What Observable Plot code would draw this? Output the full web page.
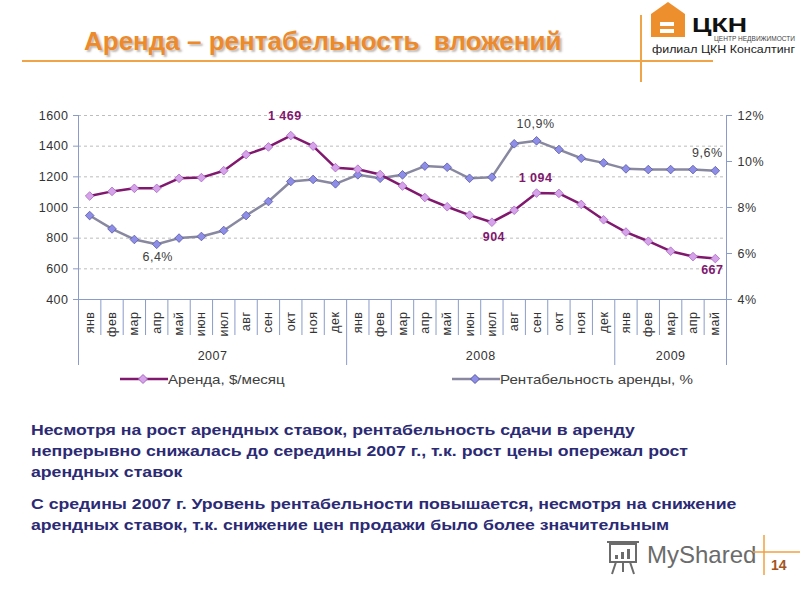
<!DOCTYPE html>
<html><head><meta charset="utf-8">
<script src="https://cdn.jsdelivr.net/npm/d3@7"></script>
<script src="https://cdn.jsdelivr.net/npm/@observablehq/plot@0.6"></script>
<style>
body{margin:0;background:#fff;font-family:"Liberation Sans",Arial,sans-serif;}
#page{position:relative;width:800px;height:600px;overflow:hidden;background:#fff;}
.abs{position:absolute;white-space:nowrap;}
#title{left:84px;top:28px;font-size:26px;line-height:26px;font-weight:bold;color:#ec8a2c;text-shadow:2px 2px 2px rgba(80,60,40,0.35);}
.para{left:31px;font-size:15.5px;line-height:21px;font-weight:bold;color:#2b2a74;transform:scaleX(1.14);transform-origin:0 0;}
.leg{font-size:13.5px;color:#404040;line-height:16px;}
.leg span{display:inline-block;transform:scaleX(1.12);transform-origin:0 50%;}
#chart{position:absolute;left:0;top:0;}
</style></head><body><div id="page">
<svg class="abs" style="left:0;top:0" width="800" height="100">
  <line x1="22" y1="61" x2="713" y2="61" stroke="#eea447" stroke-width="2"/>
  <line x1="641" y1="15" x2="641" y2="82" stroke="#eea447" stroke-width="2"/>
  <path d="M651,37 L651,14 L668,2 L685,14 L685,37 Z" fill="#ee8f2e"/>
  <rect x="660" y="22" width="14" height="4" fill="#fff"/>
  <rect x="660" y="29" width="14" height="4" fill="#fff"/>
  <text x="692" y="32" font-size="21" font-weight="bold" fill="#111" font-family="Liberation Sans, Arial" textLength="55" lengthAdjust="spacingAndGlyphs">ЦКН</text>
  <text x="714" y="41" font-size="6.6" fill="#444" font-family="Liberation Sans, Arial" textLength="81" lengthAdjust="spacingAndGlyphs">ЦЕНТР НЕДВИЖИМОСТИ</text>
  <text x="652" y="53" font-size="10.8" fill="#222" font-family="Liberation Sans, Arial" textLength="143" lengthAdjust="spacingAndGlyphs">филиал ЦКН Консалтинг</text>
</svg>
<div id="title" class="abs">Аренда – рентабельность&nbsp; вложений</div>
<div id="chart"></div>
<div class="abs leg" style="left:120px;top:372px;">
  <svg width="48" height="12" style="vertical-align:-1px"><line x1="0" y1="6" x2="48" y2="6" stroke="#80186e" stroke-width="2.5"/><path d="M23,1.5 L27.5,6 L23,10.5 L18.5,6 Z" fill="#d6a3ea" stroke="#a868c0"/></svg><span>Аренда, $/месяц</span>
</div>
<div class="abs leg" style="left:452px;top:372px;">
  <svg width="48" height="12" style="vertical-align:-1px"><line x1="0" y1="6" x2="48" y2="6" stroke="#8888a0" stroke-width="2.5"/><path d="M23,1.5 L27.5,6 L23,10.5 L18.5,6 Z" fill="#8e8ee8" stroke="#5858a0"/></svg><span>Рентабельность аренды, %</span>
</div>
<div class="abs para" style="top:419px;">Несмотря на рост арендных ставок, рентабельность сдачи в аренду<br>непрерывно снижалась до середины 2007 г., т.к. рост цены опережал рост<br>арендных ставок</div>
<div class="abs para" style="top:493px;">С средины 2007 г. Уровень рентабельности повышается, несмотря на снижение<br>арендных ставок, т.к. снижение цен продажи было более значительным</div>
<svg class="abs" style="left:600px;top:530px" width="200" height="70">
  <g fill="none" stroke="#6b6b6b" stroke-width="2">
    <rect x="10" y="14" width="26" height="18"/>
    <path d="M7,12 h32 M16,32 l-4,12 M30,32 l4,12 M23,32 v10"/>
  </g>
  <rect x="15" y="25" width="3" height="4" fill="#6b6b6b"/>
  <rect x="21" y="22" width="3" height="7" fill="#6b6b6b"/>
  <rect x="27" y="19" width="3" height="10" fill="#6b6b6b"/>
  <text x="47" y="33" font-size="24" fill="#6b6b6b" font-family="Liberation Sans, Arial">MyShared</text>
  <line x1="164" y1="5" x2="164" y2="45" stroke="#f0a040" stroke-width="1.5"/>
  <line x1="153" y1="22" x2="200" y2="22" stroke="#f0a040" stroke-width="1.5"/>
  <text x="171" y="40" font-size="14" font-weight="bold" fill="#a4541c" font-family="Liberation Sans, Arial">14</text>
</svg>
</div>
<script>
// ---- data ----
const monthLabels = ["янв","фев","мар","апр","май","июн","июл","авг","сен","окт","ноя","дек",
                     "янв","фев","мар","апр","май","июн","июл","авг","сен","окт","ноя","дек",
                     "янв","фев","мар","апр","май"];
const years = ["2007","2008","2009"];
const yearCounts = [12,12,5];
const rent = [1075,1105,1125,1125,1190,1195,1240,1345,1395,1469,1400,1260,
              1250,1215,1140,1065,1005,950,904,982,1094,1092,1020,920,
              840,780,715,680,667];
const yieldPct = [7.65,7.07,6.61,6.4,6.67,6.74,7.0,7.65,8.26,9.13,9.22,9.03,
                  9.42,9.27,9.42,9.8,9.75,9.27,9.32,10.77,10.9,10.52,10.14,9.94,
                  9.68,9.65,9.65,9.65,9.6];
const leftTicks = [400,600,800,1000,1200,1400,1600];
const rightTicks = [4,6,8,10,12];
const rentLabelIdx = [9,18,20,28];
const yieldLabelIdx = [3,20,28];

// ---- layout ----
const W = 800, H = 400, mL = 78, mR = 74, mT = 115, mB = 101;
const yMin = 400, yMax = 1600, pMin = 4, pMax = 12;
const toRent = p => yMin + (p - pMin) * (yMax - yMin) / (pMax - pMin);
const fromRent = v => pMin + (v - yMin) * (pMax - pMin) / (yMax - yMin);
const unitsPerPx = (yMax - yMin) / (H - mT - mB);
const yShort = yMin - 36 * unitsPerPx;
const yLong = yMin - 66 * unitsPerPx;
const n = monthLabels.length;
const axisColor = "#8a9cc8";
const rentColor = "#80186e";

const fmtRent = v => v >= 1000 ? `${Math.floor(v/1000)} ${String(v%1000).padStart(3,"0")}` : String(v);
const fmtPct = v => String(v).replace(".", ",") + "%";

const yearBounds = [0];
yearCounts.forEach(c => yearBounds.push(yearBounds[yearBounds.length-1] + c));
const yearCenters = years.map((y,i) => (yearBounds[i] + yearBounds[i+1]) / 2);
const monthBounds = d3.range(1, n).filter(b => !yearBounds.includes(b));
const xi = (d, i) => i + 0.5;

const rentLabelOffsets = [[-6,-20],[2,15],[-1,-15],[-3,11]];
const yieldLabelOffsets = [[1,13],[-1,-17],[-8,-18]];

const marks = [
  Plot.ruleY(leftTicks.slice(1), {stroke:"#bdbdbd", strokeDasharray:"3,3"}),
  Plot.axisY({ticks:leftTicks, tickFormat:d => String(d), tickSize:5, tickPadding:5, stroke:axisColor, fill:"#333", fontSize:12.5, label:null}),
  Plot.axisY({anchor:"right", ticks:rightTicks.map(toRent), tickFormat:d => fromRent(d) + "%", tickSize:5, tickPadding:6, stroke:axisColor, fill:"#333", fontSize:12.5, label:null}),
  Plot.ruleX([0, n], {stroke:axisColor}),
  Plot.ruleY([yMin], {stroke:axisColor}),
  Plot.ruleX(monthBounds, {y1:yMin, y2:yShort, stroke:axisColor}),
  Plot.ruleX(yearBounds, {y1:yMin, y2:yLong, stroke:axisColor}),
  Plot.text(monthLabels, {x:xi, y:() => yMin, text:d => d, rotate:-90, textAnchor:"end", dy:12, fontSize:12.5, fill:"#333"}),
  Plot.text(years, {x:(d,i) => yearCenters[i], y:() => yMin, text:d => d, dy:56, fontSize:12.5, fill:"#333"}),
  Plot.line(yieldPct, {x:xi, y:d => toRent(d), stroke:"#8888a0", strokeWidth:2.5}),
  Plot.line(rent, {x:xi, y:d => d, stroke:rentColor, strokeWidth:2.5}),
  Plot.dot(yieldPct, {x:xi, y:d => toRent(d), symbol:"diamond2", r:3.9, fill:"#8e8ee8", stroke:"#5858a0", strokeWidth:0.8}),
  Plot.dot(rent, {x:xi, y:d => d, symbol:"diamond2", r:3.9, fill:"#d6a3ea", stroke:"#a868c0", strokeWidth:0.8}),
  ...rentLabelIdx.map((k, j) => Plot.text([k], {x:d => d + 0.5, y:d => rent[d], text:d => fmtRent(rent[d]), dx:rentLabelOffsets[j][0], dy:rentLabelOffsets[j][1], fontSize:12.5, fontWeight:"bold", fill:rentColor})),
  ...yieldLabelIdx.map((k, j) => Plot.text([k], {x:d => d + 0.5, y:d => toRent(yieldPct[d]), text:d => fmtPct(yieldPct[d]), dx:yieldLabelOffsets[j][0], dy:yieldLabelOffsets[j][1], fontSize:12.5, fill:"#404040"}))
];

const chart = Plot.plot({
  width: W, height: H,
  marginLeft: mL, marginRight: mR, marginTop: mT, marginBottom: mB,
  x: {type:"linear", domain:[0, n], axis:null},
  y: {type:"linear", domain:[yMin, yMax], axis:null},
  style: {background:"transparent", fontFamily:"Liberation Sans, Arial, sans-serif", overflow:"visible", letterSpacing:"0.5px"},
  marks
});
document.getElementById("chart").appendChild(chart);
</script>
</body></html>
